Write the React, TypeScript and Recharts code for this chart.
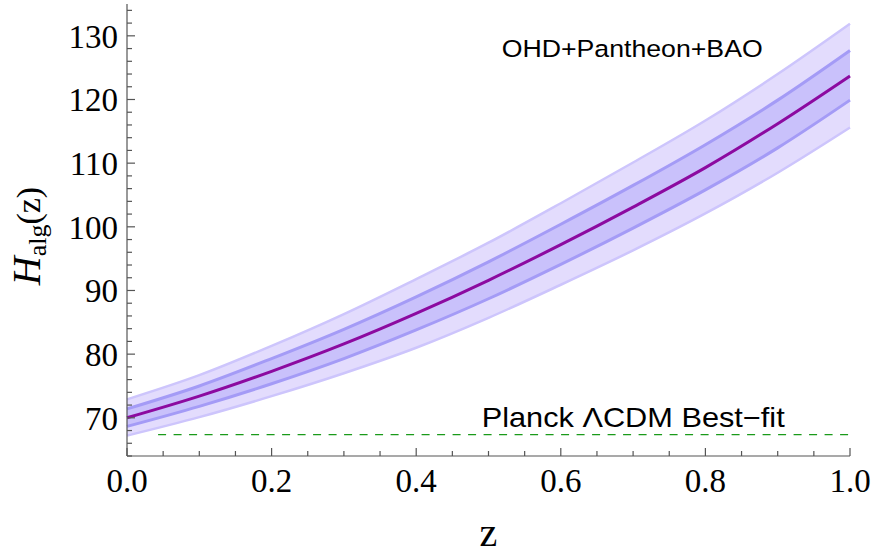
import React from "react";
import {
  ComposedChart,
  Area,
  Line,
  XAxis,
  YAxis,
  ReferenceLine,
  Customized,
} from "recharts";

// ---- data ----
const zValues = [0, 0.1, 0.2, 0.3, 0.4, 0.5, 0.6, 0.7, 0.8, 0.9, 1.0];
const hMid = [70.0, 73.4, 77.3, 81.6, 86.4, 91.6, 97.2, 103.1, 109.3, 116.2, 123.7];
const hInnerLo = [68.65, 71.8, 75.35, 79.3, 83.8, 88.7, 94.1, 99.8, 105.8, 112.4, 119.9];
const hInnerHi = [71.4, 75.0, 79.3, 83.9, 89.0, 94.5, 100.4, 106.5, 112.9, 119.9, 127.7];
const hOuterLo = [67.2, 70.1, 73.4, 77.0, 81.0, 85.7, 90.9, 96.3, 102.1, 108.5, 115.6];
const hOuterHi = [72.9, 76.7, 81.3, 86.3, 91.8, 97.5, 103.7, 110.1, 116.7, 124.0, 131.9];

const planckH0 = 67.36;
const planckZStart = 0.043;

const xTicks = [
  0, 0.05, 0.1, 0.15, 0.2, 0.25, 0.3, 0.35, 0.4, 0.45, 0.5, 0.55, 0.6, 0.65,
  0.7, 0.75, 0.8, 0.85, 0.9, 0.95, 1.0,
];
const xMajor = [0, 0.2, 0.4, 0.6, 0.8, 1.0];
const yTicks = [
  64, 66, 68, 70, 72, 74, 76, 78, 80, 82, 84, 86, 88, 90, 92, 94, 96, 98, 100,
  102, 104, 106, 108, 110, 112, 114, 116, 118, 120, 122, 124, 126, 128, 130,
  132, 134,
];
const yMajor = [70, 80, 90, 100, 110, 120, 130];

const data = zValues.map((z, i) => ({
  z,
  mid: hMid[i],
  inner: [hInnerLo[i], hInnerHi[i]],
  outer: [hOuterLo[i], hOuterHi[i]],
  innerLo: hInnerLo[i],
  innerHi: hInnerHi[i],
  outerLo: hOuterLo[i],
  outerHi: hOuterHi[i],
}));

// ---- styles ----
const FRAME = "#555555";
const SERIF = "'Liberation Serif', 'Times New Roman', serif";
const SANS = "'Liberation Sans', Arial, Helvetica, sans-serif";

const isMajorX = (v: number) => xMajor.some((m) => Math.abs(m - v) < 1e-9);
const isMajorY = (v: number) => yMajor.some((m) => Math.abs(m - v) < 1e-9);

const BottomTick = (props: any) => {
  const { x, y, payload } = props;
  const major = isMajorX(payload.value);
  return (
    <g>
      <line x1={x} x2={x} y1={y} y2={y - (major ? 8 : 5)} stroke={FRAME} strokeWidth={1.2} />
      {major && (
        <text x={x} y={y + 36} textAnchor="middle" fontFamily={SERIF} fontSize={33} fill="#000">
          {Number(payload.value).toFixed(1)}
        </text>
      )}
    </g>
  );
};

const TopTick = (props: any) => {
  const { x, y, payload } = props;
  const major = isMajorX(payload.value);
  return <line x1={x} x2={x} y1={y} y2={y + (major ? 7 : 5)} stroke={FRAME} strokeWidth={1.2} />;
};

const LeftTick = (props: any) => {
  const { x, y, payload } = props;
  const major = isMajorY(payload.value);
  return (
    <g>
      <line x1={x} x2={x + (major ? 8 : 5)} y1={y} y2={y} stroke={FRAME} strokeWidth={1.2} />
      {major && (
        <text x={x - 9} y={y + 12} textAnchor="end" fontFamily={SERIF} fontSize={33} fill="#000">
          {payload.value}
        </text>
      )}
    </g>
  );
};

const RightTick = (props: any) => {
  const { x, y, payload } = props;
  const major = isMajorY(payload.value);
  return <line x1={x} x2={x - (major ? 7 : 5)} y1={y} y2={y} stroke={FRAME} strokeWidth={1.2} />;
};

const XLabel = (props: any) => {
  const vb = props.viewBox || { x: 127, y: 456, width: 723, height: 101 };
  const cx = vb.x + vb.width / 2;
  return (
    <text x={cx} y={vb.y + 90} textAnchor="middle" fontFamily={SERIF} fontSize={40} fill="#000">
      z
    </text>
  );
};

const YLabel = (props: any) => {
  const vb = props.viewBox || { x: 0, y: 4, width: 127, height: 452 };
  const cx = 40;
  const cy = vb.y + vb.height / 2 + 6;
  return (
    <text
      x={cx}
      y={cy}
      transform={`rotate(-90, ${cx}, ${cy})`}
      textAnchor="middle"
      fontFamily={SERIF}
      fill="#000"
    >
      <tspan fontSize={40} fontStyle="italic">H</tspan>
      <tspan fontSize={26} dy={6}>alg</tspan>
      <tspan fontSize={34} dy={-6}>(z)</tspan>
    </text>
  );
};

const Annotations = () => (
  <g>
    <text
      x={501.7}
      y={56.7}
      fontFamily={SANS}
      fontSize={24.5}
      textLength={261}
      lengthAdjust="spacingAndGlyphs"
      fill="#000"
    >
      OHD+Pantheon+BAO
    </text>
    <text
      x={481.7}
      y={427.3}
      fontFamily={SANS}
      fontSize={28}
      textLength={303}
      lengthAdjust="spacingAndGlyphs"
      fill="#000"
    >
      Planck ΛCDM Best−fit
    </text>
  </g>
);

export default function App() {
  return (
    <div style={{ position: "absolute", left: 0, top: 0, width: 877, height: 557, background: "#fff" }}>
      <ComposedChart
        width={877}
        height={557}
        data={data}
        margin={{ top: 4, right: 27, bottom: 0, left: 0 }}
      >
        <XAxis
          xAxisId="b"
          dataKey="z"
          type="number"
          domain={[0, 1]}
          ticks={xTicks}
          interval={0}
          tick={<BottomTick />}
          tickLine={false}
          tickSize={0}
          tickMargin={0}
          axisLine={{ stroke: FRAME, strokeWidth: 1.2 }}
          height={101}
          label={<XLabel />}
        />
        <XAxis
          xAxisId="t"
          dataKey="z"
          type="number"
          orientation="top"
          domain={[0, 1]}
          ticks={xTicks}
          interval={0}
          tick={<TopTick />}
          tickLine={false}
          tickSize={0}
          tickMargin={0}
          axisLine={{ stroke: FRAME, strokeWidth: 1.2 }}
          height={0}
        />
        <YAxis
          yAxisId="l"
          type="number"
          domain={[64, 135]}
          ticks={yTicks}
          interval={0}
          tick={<LeftTick />}
          tickLine={false}
          tickSize={0}
          tickMargin={0}
          axisLine={{ stroke: FRAME, strokeWidth: 1.2 }}
          width={127}
          label={<YLabel />}
        />
        <YAxis
          yAxisId="r"
          type="number"
          orientation="right"
          domain={[64, 135]}
          ticks={yTicks}
          interval={0}
          tick={<RightTick />}
          tickLine={false}
          tickSize={0}
          tickMargin={0}
          axisLine={{ stroke: FRAME, strokeWidth: 1.2 }}
          width={0}
        />

        <Area
          xAxisId="b"
          yAxisId="l"
          dataKey="outer"
          type="monotone"
          fill="#e3dcfd"
          fillOpacity={1}
          stroke="none"
          isAnimationActive={false}
        />
        <Line xAxisId="b" yAxisId="l" dataKey="outerHi" type="monotone" stroke="#cdc5fc" strokeWidth={2.5} dot={false} activeDot={false} isAnimationActive={false} />
        <Line xAxisId="b" yAxisId="l" dataKey="outerLo" type="monotone" stroke="#cdc5fc" strokeWidth={2.5} dot={false} activeDot={false} isAnimationActive={false} />
        <Area
          xAxisId="b"
          yAxisId="l"
          dataKey="inner"
          type="monotone"
          fill="#c9c1fb"
          fillOpacity={1}
          stroke="none"
          isAnimationActive={false}
        />
        <Line xAxisId="b" yAxisId="l" dataKey="innerHi" type="monotone" stroke="#a49bf6" strokeWidth={3} dot={false} activeDot={false} isAnimationActive={false} />
        <Line xAxisId="b" yAxisId="l" dataKey="innerLo" type="monotone" stroke="#a49bf6" strokeWidth={3} dot={false} activeDot={false} isAnimationActive={false} />
        <Line xAxisId="b" yAxisId="l" dataKey="mid" type="monotone" stroke="#8c0aa0" strokeWidth={3} dot={false} activeDot={false} isAnimationActive={false} />

        <ReferenceLine
          xAxisId="b"
          yAxisId="l"
          segment={[
            { x: planckZStart, y: planckH0 },
            { x: 1, y: planckH0 },
          ]}
          stroke="#1a9a1a"
          strokeWidth={1.3}
          strokeDasharray="8 7.5"
          ifOverflow="extendDomain"
        />
        <Customized component={Annotations} />
      </ComposedChart>
    </div>
  );
}
